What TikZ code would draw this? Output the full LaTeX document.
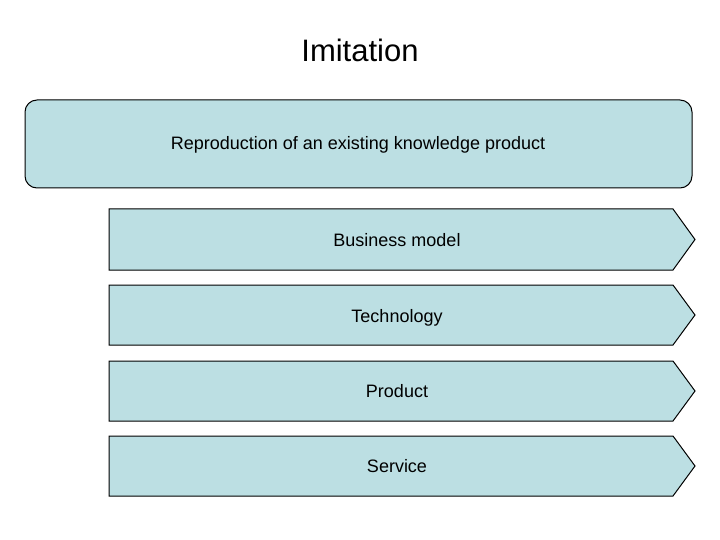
\documentclass[tikz,border=0pt]{standalone}
\usepackage{fontspec}
\setmainfont{Liberation Sans}
\definecolor{boxfill}{RGB}{188,223,227}
\begin{document}
\begin{tikzpicture}[x=1pt,y=-1pt,
  boxstyle/.style={draw=black, line width=1pt, fill=boxfill},
  lbl/.style={font=\fontsize{18}{20}\selectfont, text=black, anchor=base, inner sep=0pt}]
\useasboundingbox (0,0) rectangle (720,540);
\fill[white] (0,0) rectangle (720,540);
\node[font=\fontsize{31}{34}\selectfont, anchor=base, inner sep=0pt] (title) at (360,62) {Imitation};
\draw[boxstyle, rounded corners=12pt] (25,100) rectangle (692,188);
\node[lbl] (repro) at (358,150) {Reproduction of an existing knowledge product};
\foreach \t/\b/\bl/\name/\txt in {209/270/246/bm/Business model, 285/345/322/tech/Technology, 361/421/397/prod/Product, 436/496/472/serv/Service}{
  \draw[boxstyle] (109,\t) -- (673,\t) -- (695,{(\t+\b)/2}) -- (673,\b) -- (109,\b) -- cycle;
  \node[lbl] (\name) at (397,\bl) {\txt};
}
\end{tikzpicture}
\end{document}
